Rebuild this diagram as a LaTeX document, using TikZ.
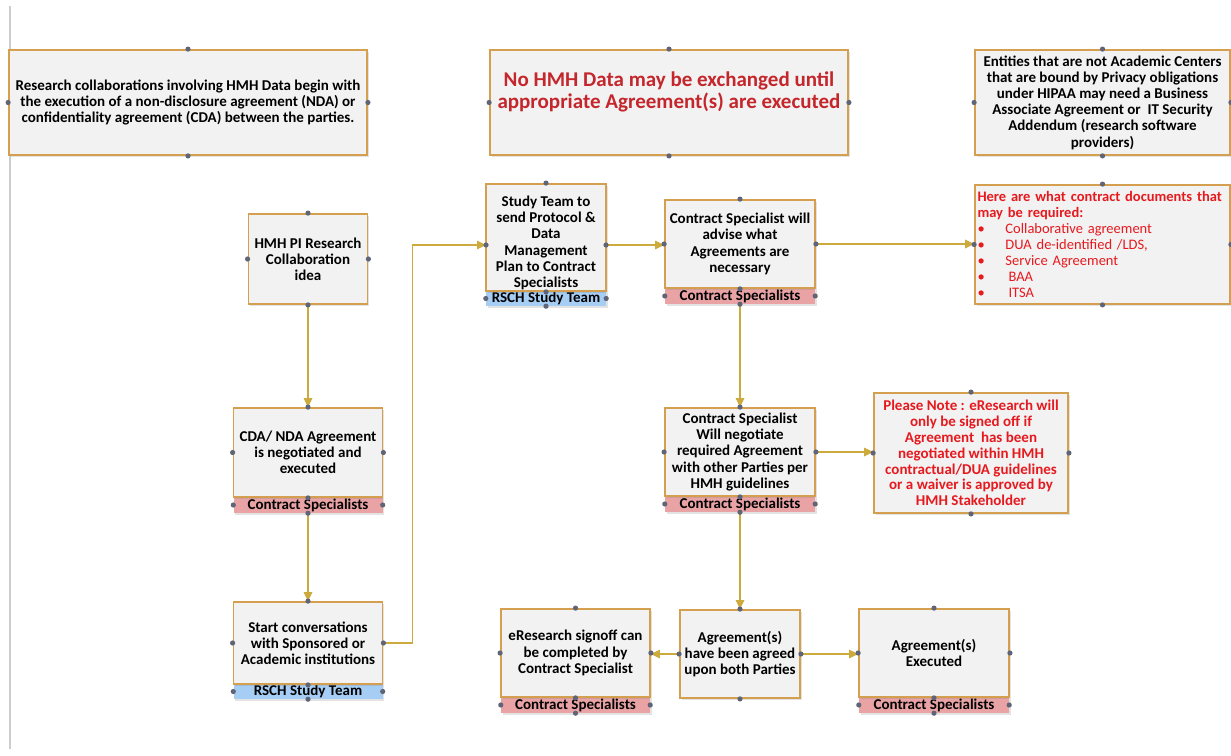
\documentclass[tikz,border=0pt]{standalone}
\usepackage{fontspec}
\setmainfont{Carlito}
\usetikzlibrary{arrows.meta,shadows}
\definecolor{boxc}{RGB}{212,160,80}
\definecolor{boxf}{RGB}{242,242,242}
\definecolor{connc}{RGB}{205,170,60}
\definecolor{dotc}{RGB}{95,100,118}
\definecolor{pinkc}{RGB}{233,163,165}
\definecolor{bluec}{RGB}{166,206,245}
\definecolor{dkred}{RGB}{196,38,44}
\definecolor{brred}{RGB}{230,25,30}
\definecolor{edgegray}{RGB}{205,205,205}
\begin{document}
\begin{tikzpicture}[x=1pt,y=-1pt,
  txt/.style={font=\fontsize{15}{16.2}\selectfont\bfseries, align=center},
  box/.style={draw=boxc, line width=1.8pt, fill=boxf, inner sep=2pt, txt,
     drop shadow={opacity=0.22, shadow xshift=1.5pt, shadow yshift=-1.5pt}},
  band/.style={inner sep=0pt, txt, minimum height=16pt,
     drop shadow={opacity=0.22, shadow xshift=1.5pt, shadow yshift=-1.5pt}},
  pinkb/.style={band, fill=pinkc},
  blueb/.style={band, fill=bluec},
  conn/.style={draw=connc, line width=1.4pt, -{Triangle[length=9pt,width=8.5pt]}},
  wh/.style 2 args={minimum width=#1pt, minimum height=#2pt}
]
\useasboundingbox[fill=white] (0,0) rectangle (1231,755);
\draw[edgegray, line width=1.3pt] (10,6) -- (10,749);

% bands
\node[pinkb, minimum width=149pt] (cda-b) at (308,505) {Contract Specialists};
\node[blueb, minimum width=149pt, minimum height=15pt] (start-b) at (308,691.5) {RSCH Study Team};
\node[blueb, minimum width=120pt, minimum height=15pt] (study-b) at (546,298.5) {RSCH Study Team};
\node[pinkb, minimum width=150pt] (advise-b) at (740,296) {Contract Specialists};
\node[pinkb, minimum width=150pt] (neg-b) at (740,504) {Contract Specialists};
\node[pinkb, minimum width=149pt] (esign-b) at (575.5,705) {Contract Specialists};
\node[pinkb, minimum width=150pt] (exec-b) at (934,705) {Contract Specialists};

% boxes
\node[box, wh={358}{105}] (tl) at (188,102.5)
  {Research collaborations involving HMH Data begin with\\the execution of a non-disclosure agreement (NDA) or\\confidentiality agreement (CDA) between the parties.};
\node[box, wh={358}{105}] (nohmh) at (669,102.5) {};
\node[txt, text=dkred, font=\fontsize{21}{22}\selectfont\bfseries] (nohmh-t) at (669,92)
  {No HMH Data may be exchanged until\\appropriate Agreement(s) are executed};
\node[box, wh={255}{105}] (ent) at (1102.5,102.5)
  {Entities that are not Academic Centers\\that are bound by Privacy obligations\\under HIPAA may need a Business\\Associate Agreement or \ IT Security\\Addendum (research software\\providers)};
\node[box, wh={119}{90}] (hmh) at (308,259) {HMH PI Research\\Collaboration\\idea};
\node[box, wh={149}{89}] (cda) at (308,452.5) {CDA/ NDA Agreement\\is negotiated and\\executed};
\node[box, wh={149}{82}] (start) at (308,643) {Start conversations\\with Sponsored or\\Academic institutions};
\node[box, wh={120}{107}] (study) at (546,237.5) {};
\node[txt] (study-t) at (546,243) {Study Team to\\send Protocol \&\\Data\\Management\\Plan to Contract\\Specialists};
\node[box, wh={150}{88}] (advise) at (740,244) {Contract Specialist will\\advise what\\Agreements are\\necessary};
\node[box, wh={255}{119}, align=left, text width=250pt, inner xsep=2.5pt, text=brred,
      font=\fontsize{14.5}{16}\selectfont\bfseries] (docs) at (1102.5,244.5)
  {Here are what contract documents that\\may be required:\\
   {\mdseries\makebox[28pt][l]{\textbullet}Collaborative agreement}\\
   {\mdseries\makebox[28pt][l]{\textbullet}DUA de-identified /LDS,}\\
   {\mdseries\makebox[28pt][l]{\textbullet}Service Agreement}\\
   {\mdseries\makebox[31pt][l]{\textbullet}BAA}\\
   {\mdseries\makebox[31pt][l]{\textbullet}ITSA}};
\node[box, wh={150}{88}] (neg) at (740,452) {Contract Specialist\\Will negotiate\\required Agreement\\with other Parties per\\HMH guidelines};
\node[box, wh={194}{120}, text=brred, font=\fontsize{15}{15.8}\selectfont\bfseries] (note) at (971,453)
  {Please Note : eResearch will\\only be signed off if\\Agreement \ has been\\negotiated within HMH\\contractual/DUA guidelines\\or a waiver is approved by\\HMH Stakeholder};
\node[box, wh={149}{88}] (esign) at (575.5,653) {eResearch signoff can\\be completed by\\Contract Specialist};
\node[box, wh={120}{88}] (agreed) at (740,654) {Agreement(s)\\have been agreed\\upon both Parties};
\node[box, wh={150}{88}] (exec) at (934,653) {Agreement(s)\\Executed};

% connection points of the study box
\coordinate (study-w) at (486,245);
\coordinate (study-e) at (606,245);

% connectors
\draw[conn] (hmh.south) -- (cda.north);
\draw[conn] (cda-b.south) -- (start.north);
\draw[conn] (start.east) -- ++(29,0) |- (study-w);
\draw[conn] (study-e) -- (study-e -| advise.west);
\draw[conn] (advise.east) -- (advise.east -| docs.west);
\draw[conn] (advise-b.south) -- (neg.north);
\draw[conn] (neg.east) -- (neg.east -| note.west);
\draw[conn] (neg-b.south) -- (agreed.north);
\draw[conn] (agreed.west) -- (agreed.west -| esign.east);
\draw[conn] (agreed.east) -- (agreed.east -| exec.west);

% connection dots
\foreach \p in {tl.north,tl.south,tl.west,tl.east,
  nohmh.north,nohmh.south,nohmh.west,nohmh.east,
  ent.north,ent.south,ent.west,ent.east,
  hmh.north,hmh.south,hmh.west,hmh.east,
  cda.north,cda.south,cda.west,cda.east,cda-b.south,cda-b.west,cda-b.east,
  start.north,start.south,start.west,start.east,start-b.south,start-b.west,start-b.east,
  study.north,study-w,study-e,study.south,study-b.south,study-b.west,study-b.east,
  advise.north,advise.south,advise.west,advise.east,advise-b.south,advise-b.west,advise-b.east,
  docs.north,docs.south,docs.west,docs.east,
  neg.north,neg.south,neg.west,neg.east,neg-b.south,neg-b.west,neg-b.east,
  note.north,note.south,note.west,note.east,
  esign.north,esign.south,esign.west,esign.east,esign-b.south,esign-b.west,esign-b.east,
  agreed.north,agreed.south,agreed.west,agreed.east,
  exec.north,exec.south,exec.west,exec.east,exec-b.south,exec-b.west,exec-b.east}
  {\fill[dotc] (\p) circle[radius=2.6pt];}
\end{tikzpicture}
\end{document}
